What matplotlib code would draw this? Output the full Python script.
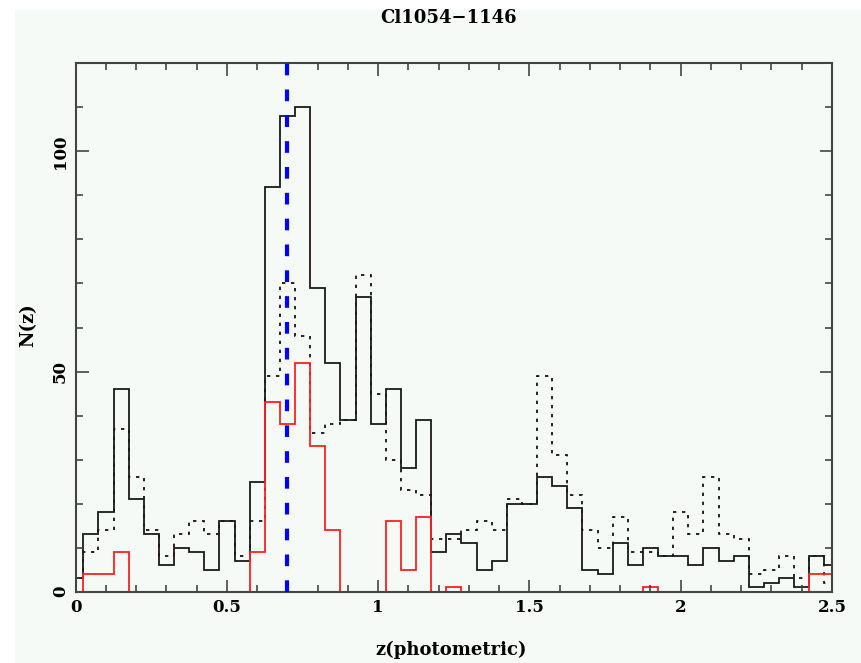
import numpy as np
import matplotlib
matplotlib.use("Agg")
import matplotlib.pyplot as plt
from matplotlib.patches import Rectangle

# bin centres (z) and counts
z_centres = [0.00, 0.05, 0.10, 0.15, 0.20, 0.25, 0.30, 0.35, 0.40, 0.45,
             0.50, 0.55, 0.60, 0.65, 0.70, 0.75, 0.80, 0.85, 0.90, 0.95,
             1.00, 1.05, 1.10, 1.15, 1.20, 1.25, 1.30, 1.35, 1.40, 1.45,
             1.50, 1.55, 1.60, 1.65, 1.70, 1.75, 1.80, 1.85, 1.90, 1.95,
             2.00, 2.05, 2.10, 2.15, 2.20, 2.25, 2.30, 2.35, 2.40, 2.45, 2.50]
bin_width = 0.05

n_solid = [3, 13, 18, 46, 21, 13, 6, 10, 9, 5,
           16, 7, 25, 92, 108, 110, 69, 52, 39, 67,
           38, 46, 28, 39, 9, 13, 11, 5, 7, 20,
           20, 26, 24, 19, 5, 4, 11, 6, 10, 8,
           8, 6, 10, 7, 8, 1, 2, 3, 1, 8, 6]
n_dotted = [3, 9, 14, 37, 26, 14, 8, 13, 16, 13,
            16, 8, 16, 49, 70, 58, 36, 38, 39, 72,
            45, 30, 23, 22, 12, 12, 14, 16, 14, 21,
            20, 49, 31, 22, 14, 10, 17, 9, 9, 8,
            18, 13, 26, 13, 12, 4, 5, 8, 3, 8, 2]
n_red = [0, 4, 4, 9, 0, 0, 0, 0, 0, 0,
         0, 0, 9, 43, 38, 52, 33, 14, 0, 0,
         0, 16, 5, 17, 0, 1, 0, 0, 0, 0,
         0, 0, 0, 0, 0, 0, 0, 0, 1, 0,
         0, 0, 0, 0, 0, 0, 0, 0, 0, 4, 4]

z_cluster = 0.697
title = "Cl1054\u22121146"
xlabel = "z(photometric)"
ylabel = "N(z)"
xticks = [0, 0.5, 1, 1.5, 2, 2.5]
xticklabels = ["0", "0.5", "1", "1.5", "2", "2.5"]
yticks = [0, 50, 100]
yticklabels = ["0", "50", "100"]

W, H = 861, 663
bg = "#f5faf6"
fig = plt.figure(figsize=(W / 100, H / 100), dpi=100, facecolor="white")
fig.patches.append(Rectangle((15 / W, 0), 1, 1 - 10 / H, transform=fig.transFigure,
                             facecolor=bg, edgecolor="none", zorder=-10))

x0, x1 = 75.7, 832.0
y0, y1 = 591.7, 63.3
ax = fig.add_axes([x0 / W, 1 - y0 / H, (x1 - x0) / W, (y0 - y1) / H])
ax.set_facecolor(bg)

edges = np.concatenate([np.array(z_centres) - bin_width / 2,
                        [z_centres[-1] + bin_width / 2]])

ax.stairs(n_dotted, edges, color="black", lw=1.2, linestyle=(0, (2.0, 3.4)), baseline=0)
ax.stairs(n_solid, edges, color="#1a1a1a", lw=1.3, baseline=0)
ax.stairs(n_red, edges, color="#ff2020", lw=1.3, baseline=0)
ax.axvline(z_cluster, color="#0000ff", lw=3.0, linestyle=(0, (2.8, 3.4)), zorder=3)

ax.set_xlim(0, 2.5)
ax.set_ylim(0, 120)

font = dict(family="DejaVu Serif", weight="bold")
ax.set_xticks(xticks)
ax.set_xticklabels(xticklabels, fontsize=12, **font)
ax.set_xticks(np.arange(0, 2.5001, 0.1), minor=True)
ax.set_yticks(yticks)
ax.set_yticklabels(yticklabels, fontsize=12, rotation=90, va="center", **font)
ax.set_yticks(np.arange(0, 120.1, 10), minor=True)
ax.tick_params(which="both", direction="in", top=True, right=True, color="#444444", width=1.2)
ax.tick_params(which="major", length=9)
ax.tick_params(which="minor", length=5)
ax.tick_params(axis="x", which="major", pad=5)
ax.tick_params(axis="y", which="major", pad=5)
for s in ax.spines.values():
    s.set_color("#444444")
    s.set_linewidth(1.5)

fig.text(449 / W, 1 - 18 / H, title, ha="center", va="center", fontsize=13, **font)
fig.text(451 / W, 1 - 650 / H, xlabel, ha="center", va="center", fontsize=13, **font)
fig.text(28 / W, 1 - 325 / H, ylabel, ha="center", va="center", rotation=90, fontsize=13, **font)

fig.savefig("out.png", dpi=100, facecolor="white")
